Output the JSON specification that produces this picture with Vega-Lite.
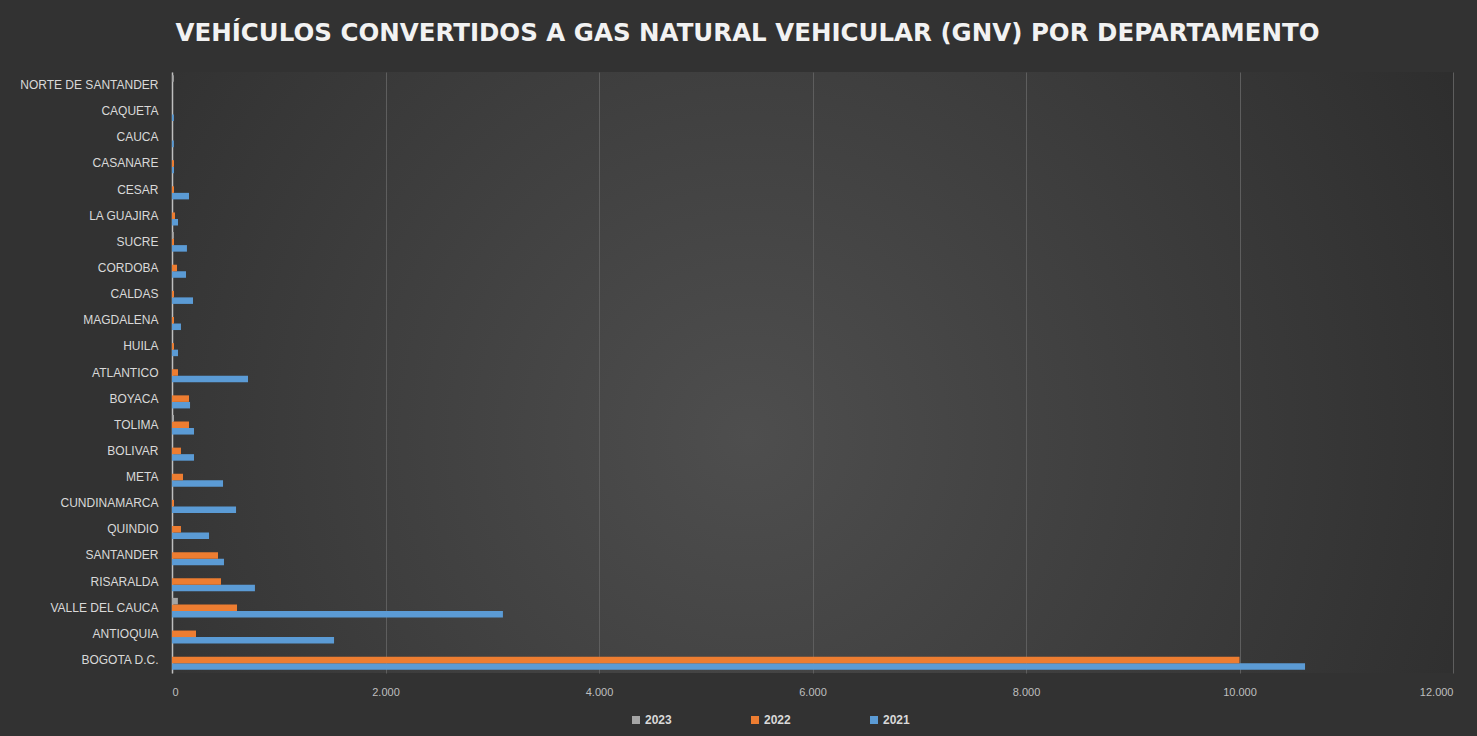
{
  "$schema": "https://vega.github.io/schema/vega-lite/v6.json",
  "width": 1281,
  "height": 601,
  "autosize": "none",
  "padding": {"left": 172, "top": 72, "right": 24, "bottom": 63},
  "background": "#323232",
  "title": {
    "text": "VEHÍCULOS CONVERTIDOS A GAS NATURAL VEHICULAR (GNV) POR DEPARTAMENTO",
    "font": "DejaVu Sans",
    "fontSize": 24.5,
    "fontWeight": "bold",
    "color": "#f2f2f2",
    "anchor": "middle",
    "dx": -65,
    "baseline": "alphabetic",
    "offset": 7
  },
  "data": {
    "values": [
      {"dept": "BOGOTA D.C.", "year": "2021", "value": 10614},
      {"dept": "BOGOTA D.C.", "year": "2022", "value": 10000},
      {"dept": "ANTIOQUIA", "year": "2021", "value": 1518},
      {"dept": "ANTIOQUIA", "year": "2022", "value": 225},
      {"dept": "VALLE DEL CAUCA", "year": "2021", "value": 3100},
      {"dept": "VALLE DEL CAUCA", "year": "2022", "value": 609},
      {"dept": "VALLE DEL CAUCA", "year": "2023", "value": 55},
      {"dept": "RISARALDA", "year": "2021", "value": 777},
      {"dept": "RISARALDA", "year": "2022", "value": 459},
      {"dept": "SANTANDER", "year": "2021", "value": 487},
      {"dept": "SANTANDER", "year": "2022", "value": 431},
      {"dept": "QUINDIO", "year": "2021", "value": 347},
      {"dept": "QUINDIO", "year": "2022", "value": 84},
      {"dept": "CUNDINAMARCA", "year": "2021", "value": 600},
      {"dept": "CUNDINAMARCA", "year": "2022", "value": 19},
      {"dept": "META", "year": "2021", "value": 478},
      {"dept": "META", "year": "2022", "value": 103},
      {"dept": "BOLIVAR", "year": "2021", "value": 206},
      {"dept": "BOLIVAR", "year": "2022", "value": 84},
      {"dept": "TOLIMA", "year": "2021", "value": 206},
      {"dept": "TOLIMA", "year": "2022", "value": 159},
      {"dept": "TOLIMA", "year": "2023", "value": 19},
      {"dept": "BOYACA", "year": "2021", "value": 169},
      {"dept": "BOYACA", "year": "2022", "value": 159},
      {"dept": "ATLANTICO", "year": "2021", "value": 712},
      {"dept": "ATLANTICO", "year": "2022", "value": 56},
      {"dept": "HUILA", "year": "2021", "value": 56},
      {"dept": "HUILA", "year": "2022", "value": 19},
      {"dept": "MAGDALENA", "year": "2021", "value": 84},
      {"dept": "MAGDALENA", "year": "2022", "value": 19},
      {"dept": "CALDAS", "year": "2021", "value": 197},
      {"dept": "CALDAS", "year": "2022", "value": 19},
      {"dept": "CORDOBA", "year": "2021", "value": 131},
      {"dept": "CORDOBA", "year": "2022", "value": 47},
      {"dept": "SUCRE", "year": "2021", "value": 140},
      {"dept": "SUCRE", "year": "2022", "value": 19},
      {"dept": "SUCRE", "year": "2023", "value": 17},
      {"dept": "LA GUAJIRA", "year": "2021", "value": 56},
      {"dept": "LA GUAJIRA", "year": "2022", "value": 28},
      {"dept": "CESAR", "year": "2021", "value": 159},
      {"dept": "CESAR", "year": "2022", "value": 19},
      {"dept": "CASANARE", "year": "2021", "value": 19},
      {"dept": "CASANARE", "year": "2022", "value": 19},
      {"dept": "CAUCA", "year": "2021", "value": 17},
      {"dept": "CAQUETA", "year": "2021", "value": 17},
      {"dept": "NORTE DE SANTANDER", "year": "2023", "value": 17}
    ]
  },
  "mark": {"type": "bar"},
  "encoding": {
    "y": {
      "field": "dept",
      "type": "nominal",
      "sort": ["NORTE DE SANTANDER", "CAQUETA", "CAUCA", "CASANARE", "CESAR", "LA GUAJIRA", "SUCRE", "CORDOBA", "CALDAS", "MAGDALENA", "HUILA", "ATLANTICO", "BOYACA", "TOLIMA", "BOLIVAR", "META", "CUNDINAMARCA", "QUINDIO", "SANTANDER", "RISARALDA", "VALLE DEL CAUCA", "ANTIOQUIA", "BOGOTA D.C."],
      "scale": {"paddingInner": 0.25, "paddingOuter": 0.125},
      "axis": {
        "title": null,
        "ticks": false,
        "domain": true,
        "domainColor": "#bfbfbf",
        "domainWidth": 1.5,
        "labelFont": "Liberation Sans",
        "labelFontSize": 12,
        "labelColor": "#d9d9d9",
        "labelPadding": 14,
        "grid": false
      }
    },
    "yOffset": {"field": "year", "type": "nominal", "sort": ["2023", "2022", "2021"]},
    "x": {
      "field": "value",
      "type": "quantitative",
      "scale": {"domain": [0, 12000], "nice": false},
      "axis": {
        "title": null,
        "values": [0, 2000, 4000, 6000, 8000, 10000, 12000],
        "labelExpr": "replace(format(datum.value, ','), ',', '.')",
        "domain": false,
        "ticks": false,
        "grid": true,
        "gridColor": "#5e5e5e",
        "gridWidth": 1,
        "labelFont": "Liberation Sans",
        "labelFontSize": 11,
        "labelColor": "#bfbfbf",
        "labelPadding": 13
      }
    },
    "color": {
      "field": "year",
      "type": "nominal",
      "scale": {"domain": ["2023", "2022", "2021"], "range": ["#a5a5a5", "#ed7d31", "#5b9bd5"]},
      "legend": {
        "title": null,
        "orient": "none",
        "direction": "horizontal",
        "legendX": 458,
        "legendY": 642,
        "symbolType": "square",
        "symbolSize": 64,
        "symbolStrokeWidth": 0,
        "labelFont": "Liberation Sans",
        "labelFontSize": 12,
        "labelFontWeight": "bold",
        "labelColor": "#d9d9d9",
        "labelOffset": 3,
        "columnPadding": 77,
        "padding": 0
      }
    }
  },
  "config": {
    "view": {
      "stroke": null,
      "fill": {
        "gradient": "radial",
        "x1": 0.45, "y1": 0.55, "r1": 0,
        "x2": 0.45, "y2": 0.55, "r2": 0.75,
        "stops": [
          {"offset": 0, "color": "#4e4e4e"},
          {"offset": 1, "color": "#272727"}
        ]
      }
    }
  }
}
